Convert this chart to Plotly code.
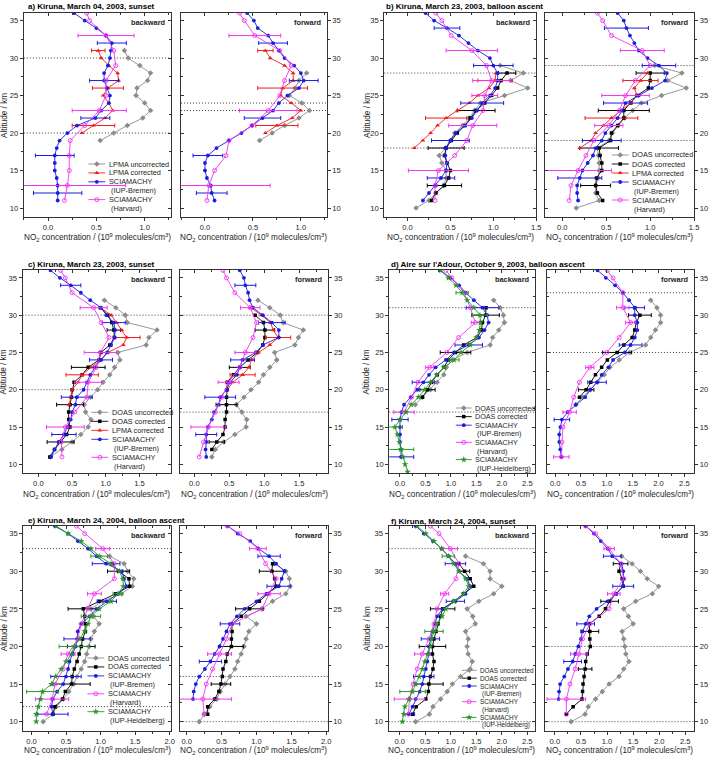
import plotly.graph_objects as go

W, H = 722, 762
FONT = "Arial, 'Liberation Sans', Helvetica, sans-serif"
INK = "#1e1e1e"
AXC = "#333333"

# ---------------- data: (altitude km, NO2 / 1e9 molecules cm-3) ----------------
# a) Kiruna, March 04, 2003, sunset -- backward
A_B_LPMA_UNC = [(19, .54), (20, .68), (21, .82), (22, .98), (23, 1.06), (24, 1.0), (25, .91), (26, .92),
                (27, 1.03), (28, 1.06), (29, .95), (30, .83), (31, .79)]
A_B_LPMA_COR = [(20, .35), (21, .47), (22, .59), (23, .67), (24, .63), (25, .57), (26, .62), (27, .73),
                (28, .72), (29, .63), (30, .55), (31, .52)]
A_B_LPMA_COR_ERR = [(21, .22), (26, .16), (31, .07)]
A_B_IUP = [(11, .10), (12, .10), (13, .10), (14, .09), (15, .07), (16, .07), (17, .07), (18, .09), (19, .12),
           (20, .20), (21, .30), (22, .49), (23, .55), (24, .63), (25, .64), (26, .61), (27, .58), (28, .58),
           (29, .62), (30, .64), (31, .65), (32, .66), (33, .60), (34, .50), (35, .38), (36, .27)]
A_B_IUP_ERR = [(12, .25), (17, .2), (22, .15), (27, .15), (32, .15)]
A_B_HARV = [(11, .17), (13, .20), (15, .22), (17, .22), (19, .23), (21, .38), (23, .53), (25, .60), (27, .60),
            (29, .70), (31, .68), (33, .60), (35, .43), (36, .40)]
A_B_HARV_ERR = [(13, .6), (23, .28), (33, .29)]
A_B_LEVELS = [30, 20]
# a) forward
A_F_LPMA_UNC = [(19, .57), (20, .70), (21, .83), (22, .98), (23, 1.09), (24, 1.01), (25, .88), (26, .94),
                (27, .98), (28, 1.06)]
A_F_LPMA_COR = [(20, .63), (21, .75), (22, .91), (23, 1.0), (24, .90), (25, .79), (26, .81), (27, .92),
                (28, .92), (29, .83), (30, .68), (31, .63)]
A_F_LPMA_COR_ERR = [(21, .22), (26, .26), (31, .08)]
A_F_IUP = [(11, .10), (12, .07), (13, .06), (14, .02), (15, .0), (16, .0), (17, .03), (18, .12), (19, .25),
           (20, .38), (21, .49), (22, .60), (23, .71), (24, .77), (25, .86), (26, .98), (27, 1.03), (28, 1.0),
           (29, .93), (30, .83), (31, .77), (32, .71), (33, .66), (34, .55), (35, .51), (36, .44)]
A_F_IUP_ERR = [(12, .16), (17, .155), (22, .19), (27, .15), (32, .15)]
A_F_HARV = [(11, .02), (13, .04), (15, .10), (17, .22), (19, .25), (21, .49), (23, .66), (25, .78), (27, .83),
            (29, .90), (31, .78), (33, .52), (35, .41), (36, .36)]
A_F_HARV_ERR = [(13, .64), (23, .3), (33, .27)]
A_F_LEVELS = [24, 23]

# b) Kiruna, March 23, 2003, balloon ascent -- backward
B_B_DOAS_UNC = [(10, .10), (11, .25), (12, .33), (13, .42), (14, .45), (15, .45), (16, .40), (17, .37), (18, .44),
                (19, .50), (20, .55), (21, .64), (22, .72), (23, .78), (24, .85), (25, 1.13), (26, 1.40), (27, 1.20),
                (28, 1.35), (29, 1.08)]
B_B_DOAS_COR = [(11, .28), (12, .33), (13, .43), (14, .48), (15, .50), (16, .46), (17, .43), (18, .45), (19, .51),
                (20, .58), (21, .67), (22, .73), (23, .80), (24, .90), (25, .98), (26, 1.05), (27, 1.09), (28, 1.16)]
B_B_DOAS_COR_ERR = [(13, .2), (18, .21), (23, .22), (28, .1)]
B_B_LPMA_COR = [(18, .08), (19, .18), (20, .27), (21, .35), (22, .45), (23, .58), (24, .72), (25, .82), (26, .95),
                (27, 1.02), (28, 1.03)]
B_B_LPMA_COR_ERR = [(22, .24), (27, .2)]
B_B_IUP = [(11, .18), (12, .25), (13, .33), (14, .39), (15, .45), (16, .46), (17, .44), (18, .45), (19, .50),
           (20, .56), (21, .67), (22, .75), (23, .81), (24, .87), (25, .96), (26, 1.02), (27, 1.05), (28, 1.05),
           (29, 1.0), (30, .96), (31, .82), (32, .71), (33, .60), (34, .46), (35, .31), (36, .21)]
B_B_IUP_ERR = [(14, .16), (19, .22), (24, .25), (29, .23), (34, .15)]
B_B_HARV = [(11, .32), (13, .32), (15, .36), (17, .55), (19, .69), (21, .76), (23, .88), (25, .90), (27, .98),
            (29, .92), (31, .75), (33, .51), (35, .40), (36, .33)]
B_B_HARV_ERR = [(15, .35), (21, .28), (25, .15), (27, .22), (31, .3)]
B_B_LEVELS = [28, 18]
# b) forward
B_F_DOAS_UNC = [(10, .16), (11, .42), (12, .38), (13, .38), (14, .41), (15, .42), (16, .42), (17, .41), (18, .40),
                (19, .53), (20, .57), (21, .64), (22, .71), (23, .80), (24, .90), (25, 1.13), (26, 1.41), (27, 1.2),
                (28, 1.36), (29, 1.05)]
B_F_DOAS_COR = [(11, .46), (12, .40), (13, .38), (14, .39), (15, .45), (16, .45), (17, .43), (18, .42), (19, .55),
                (20, .56), (21, .63), (22, .70), (23, .70), (24, .78), (25, .85), (26, .98), (27, 1.0), (28, 1.0)]
B_F_DOAS_COR_ERR = [(13, .17), (18, .22), (23, .29), (28, .16)]
B_F_LPMA_COR = [(18, .2), (19, .33), (20, .38), (21, .47), (22, .56), (23, .67), (24, .78), (25, .85), (26, .82),
                (27, .89), (28, .97)]
B_F_LPMA_COR_ERR = [(22, .3), (27, .2)]
B_F_IUP = [(11, .18), (12, .17), (13, .17), (14, .20), (15, .23), (16, .29), (17, .35), (18, .38), (19, .45),
           (20, .49), (21, .56), (22, .63), (23, .68), (24, .72), (25, .87), (26, 1.02), (27, 1.17), (28, 1.19),
           (29, 1.10), (30, .97), (31, .87), (32, .82), (33, .77), (34, .73), (35, .70), (36, .63)]
B_F_IUP_ERR = [(14, .25), (19, .22), (24, .25), (29, .19), (34, .25)]
B_F_HARV = [(11, .08), (13, .10), (15, .18), (17, .27), (19, .36), (21, .53), (23, .65), (25, .72), (27, .83),
            (29, 1.0), (31, .91), (33, .56), (35, .46), (36, .40)]
B_F_HARV_ERR = [(15, .38), (21, .16), (25, .27), (31, .25)]
B_F_LEVELS = [29, 19]

# c) Kiruna, March 23, 2003, sunset -- backward
C_B_DOAS_UNC = [(11, .18), (12, .35), (13, .50), (14, .63), (15, .74), (16, .78), (17, .70), (18, .68), (19, .77),
                (20, .88), (21, .96), (22, 1.06), (23, 1.13), (24, 1.21), (25, 1.18), (26, 1.60), (27, 1.64),
                (28, 1.76), (29, 1.32), (30, 1.29), (31, 1.15), (32, .98)]
C_B_DOAS_COR = [(11, .17), (12, .24), (13, .33), (14, .42), (15, .47), (16, .45), (17, .45), (18, .47), (19, .49),
                (20, .50), (21, .53), (22, .65), (23, .74), (24, .90), (25, .93), (26, 1.06), (27, 1.13), (28, 1.12),
                (29, 1.09), (30, 1.03), (31, .92)]
C_B_DOAS_COR_ERR = [(13, .2), (18, .2), (23, .25), (28, .1)]
C_B_LPMA_COR = [(18, .46), (19, .48), (20, .50), (21, .59), (22, .65), (23, .78), (24, .93), (25, 1.03), (26, 1.26),
                (27, 1.31), (28, 1.24), (29, 1.16), (30, 1.08), (31, .92)]
C_B_LPMA_COR_ERR = [(22, .24), (27, .2)]
C_B_IUP = [(11, .19), (12, .24), (13, .30), (14, .38), (15, .43), (16, .48), (17, .50), (18, .55), (19, .57),
           (20, .67), (21, .72), (22, .77), (23, .84), (24, .93), (25, 1.02), (26, 1.08), (27, 1.13), (28, 1.14),
           (29, 1.12), (30, 1.01), (31, .93), (32, .77), (33, .63), (34, .48), (35, .32), (36, .18)]
C_B_IUP_ERR = [(14, .18), (19, .23), (24, .17), (29, .17), (34, .15)]
C_B_HARV = [(11, .35), (13, .34), (15, .40), (17, .54), (19, .72), (21, .74), (23, .86), (25, .92), (27, 1.05),
            (29, .93), (31, .82), (33, .50), (35, .40), (36, .33)]
C_B_HARV_ERR = [(15, .28), (21, .2), (25, .24), (31, .2)]
C_B_LEVELS = [30, 20]
# c) forward
C_F_DOAS_UNC = [(11, .25), (12, .30), (13, .42), (14, .58), (15, .74), (16, .75), (17, .68), (18, .60), (19, .71),
                (20, .81), (21, .92), (22, .99), (23, 1.08), (24, 1.18), (25, 1.15), (26, 1.44), (27, 1.49),
                (28, 1.56), (29, 1.27), (30, 1.23), (31, 1.08), (32, .91)]
C_F_DOAS_COR = [(12, .25), (13, .32), (14, .41), (15, .44), (16, .44), (17, .46), (18, .46), (19, .46), (20, .47),
                (21, .47), (22, .56), (23, .65), (24, .77), (25, .90), (26, .98), (27, 1.01), (28, 1.01), (29, .99),
                (30, .87)]
C_F_DOAS_COR_ERR = [(13, .11), (18, .15), (23, .15), (28, .14)]
C_F_LPMA_COR = [(20, .47), (21, .55), (22, .69), (23, .78), (24, .82), (25, .92), (26, 1.08), (27, 1.20), (28, 1.13),
                (29, 1.09), (30, .96), (31, .81)]
C_F_LPMA_COR_ERR = [(22, .18), (27, .18)]
C_F_IUP = [(11, .17), (12, .16), (13, .17), (14, .17), (15, .19), (16, .25), (17, .28), (18, .35), (19, .37),
           (20, .46), (21, .51), (22, .61), (23, .65), (24, .69), (25, .88), (26, .98), (27, 1.21), (28, 1.21),
           (29, 1.11), (30, .98), (31, .84), (32, .79), (33, .77), (34, .73), (35, .71), (36, .65)]
C_F_IUP_ERR = [(14, .15), (19, .22), (24, .17), (29, .19), (34, .15)]
C_F_HARV = [(11, .07), (13, .13), (15, .20), (17, .30), (19, .39), (21, .49), (23, .65), (25, .73), (27, .84),
            (29, .89), (31, .80), (33, .58), (35, .46), (36, .41)]
C_F_HARV_ERR = [(15, .25), (21, .15), (25, .15), (31, .14)]
C_F_LEVELS = [30, 17]

# d) Aire sur l'Adour, October 9, 2003, balloon ascent -- backward
D_B_DOAS_UNC = [(18, .30), (19, .44), (20, .60), (21, .73), (22, .86), (23, .91), (24, 1.03), (25, 1.32), (26, 1.77),
                (27, 1.82), (28, 1.94), (29, 2.05), (30, 2.03), (31, 1.97), (32, 1.84)]
D_B_DOAS_COR = [(19, .44), (20, .54), (21, .62), (22, .73), (23, .86), (24, .95), (25, 1.09), (26, 1.25), (27, 1.51),
                (28, 1.60), (29, 1.62), (30, 1.68), (31, 1.69)]
D_B_DOAS_COR_ERR = [(20, .15), (25, .3), (30, .27)]
D_B_IUP = [(11, .02), (12, .02), (13, .0), (14, .0), (15, .0), (16, .0), (17, .03), (18, .08), (19, .21),
           (20, .34), (21, .46), (22, .57), (23, .70), (24, .90), (25, 1.06), (26, 1.35), (27, 1.55), (28, 1.66),
           (29, 1.74), (30, 1.71), (31, 1.62), (32, 1.45), (33, 1.29), (34, 1.16), (35, .99), (36, .79)]
D_B_IUP_ERR = [(11, .25), (16, .16), (21, .22), (26, .27), (31, .32)]
D_B_HARV = [(17, .08), (19, .23), (21, .35), (23, .58), (25, .92), (27, 1.15), (29, 1.48), (31, 1.38), (33, 1.26),
            (35, 1.02), (36, .90)]
D_B_HARV_ERR = [(17, .2), (23, .08), (29, .08)]
D_B_HEID = [(9, .15), (10, .10), (11, .06), (12, .02), (13, -.01), (14, -.05), (15, -.10), (16, .0), (17, .12),
            (18, .22), (19, .36), (20, .48), (21, .60), (22, .72), (23, .86), (24, 1.06), (25, 1.20), (26, 1.38),
            (27, 1.50), (28, 1.56), (29, 1.58), (30, 1.57), (31, 1.45), (32, 1.32), (33, 1.22), (34, 1.10),
            (35, .95), (36, .80)]
D_B_HEID_ERR = [(12, .25), (15, .15), (24, .1), (30, .15), (33, .12)]
D_B_LEVELS = [31, 17]
# d) forward
D_F_DOAS_UNC = [(18, .40), (19, .53), (20, .68), (21, .82), (22, .95), (23, 1.06), (24, 1.24), (25, 1.44), (26, 1.75),
                (27, 1.85), (28, 1.94), (29, 2.04), (30, 2.04), (31, 1.97), (32, 1.85)]
D_F_DOAS_COR = [(19, .47), (20, .60), (21, .69), (22, .78), (23, .90), (24, 1.01), (25, 1.20), (26, 1.33), (27, 1.49),
                (28, 1.54), (29, 1.57), (30, 1.64), (31, 1.54)]
D_F_DOAS_COR_ERR = [(20, .15), (25, .28), (30, .22)]
D_F_IUP = [(11, .12), (12, .10), (13, .08), (14, .08), (15, .10), (16, .13), (17, .24), (18, .40), (19, .58),
           (20, .68), (21, .81), (22, .90), (23, 1.03), (24, 1.12), (25, 1.35), (26, 1.46), (27, 1.54), (28, 1.59),
           (29, 1.59), (30, 1.54), (31, 1.54), (32, 1.43), (33, 1.31), (34, 1.16), (35, .98), (36, .82)]
D_F_IUP_ERR = [(16, .15), (21, .18), (26, .22), (31, .19)]
D_F_HARV = [(11, .12), (13, .13), (15, .15), (17, .28), (19, .36), (21, .47), (23, .67), (25, 1.0), (27, 1.24),
            (29, 1.46), (31, 1.31), (33, 1.31), (35, 1.12), (36, 1.01)]
D_F_HARV_ERR = [(11, .15), (17, .13), (23, .08), (29, .1), (31, .12)]
D_F_LEVELS = [33, 25]

# e) Kiruna, March 24, 2004, balloon ascent -- backward
E_B_DOAS_UNC = [(10, .17), (11, .31), (12, .36), (13, .46), (14, .54), (15, .61), (16, .66), (17, .72), (18, .77),
                (19, .80), (20, .83), (21, .86), (22, .91), (23, .98), (24, .90), (25, .86), (26, 1.03), (27, 1.30),
                (28, 1.46), (29, 1.48), (30, 1.39), (31, 1.34), (32, 1.13)]
E_B_DOAS_COR = [(11, .31), (12, .34), (13, .45), (14, .49), (15, .58), (16, .59), (17, .62), (18, .66), (19, .69),
                (20, .72), (21, .74), (22, .78), (23, .78), (24, .77), (25, .75), (26, .98), (27, 1.22), (28, 1.42),
                (29, 1.41), (30, 1.26), (31, 1.17)]
E_B_DOAS_COR_ERR = [(15, .27), (20, .2), (25, .22), (30, .16)]
E_B_IUP = [(11, .31), (12, .29), (13, .31), (14, .37), (15, .46), (16, .50), (17, .53), (18, .55), (19, .60),
           (20, .64), (21, .66), (22, .67), (23, .72), (24, .84), (25, .94), (26, 1.09), (27, 1.25), (28, 1.37),
           (29, 1.34), (30, 1.31), (31, 1.08), (32, .94), (33, .82), (34, .67), (35, .53), (36, .34)]
E_B_IUP_ERR = [(11, .22), (16, .22), (21, .19), (26, .14), (31, .2)]
E_B_HARV = [(11, .22), (13, .30), (15, .34), (17, .46), (19, .53), (21, .67), (23, .72), (25, .82), (27, .91),
            (29, 1.20), (31, 1.20), (33, 1.03), (35, .77), (36, .65)]
E_B_HARV_ERR = [(13, .24), (19, .1), (27, .1), (33, .1)]
E_B_HEID = [(10, .07), (11, .07), (12, .10), (13, .13), (14, .16), (15, .29), (16, .35), (17, .43), (18, .50),
            (19, .58), (20, .62), (21, .70), (22, .77), (23, .82), (24, .86), (25, .98), (26, 1.15), (27, 1.25),
            (28, 1.33), (29, 1.32), (30, 1.27), (31, 1.15), (32, .98), (33, .86), (34, .72), (35, .53), (36, .36)]
E_B_HEID_ERR = [(14, .23), (20, .22), (24, .14), (27, .07), (32, .12)]
E_B_LEVELS = [33, 12]
# e) forward
E_F_DOAS_UNC = [(10, .18), (11, .25), (12, .33), (13, .43), (14, .48), (15, .55), (16, .62), (17, .69), (18, .73),
                (19, .78), (20, .82), (21, .85), (22, .89), (23, 1.0), (24, .85), (25, 1.08), (26, 1.23), (27, 1.42),
                (28, 1.48), (29, 1.47), (30, 1.42), (31, 1.26)]
E_F_DOAS_COR = [(11, .30), (12, .30), (13, .40), (14, .46), (15, .49), (16, .51), (17, .52), (18, .56), (19, .58),
                (20, .64), (21, .64), (22, .65), (23, .65), (24, .78), (25, .90), (26, 1.04), (27, 1.16), (28, 1.28),
                (29, 1.26), (30, 1.22), (31, 1.23)]
E_F_DOAS_COR_ERR = [(15, .14), (20, .17), (25, .2), (30, .18)]
E_F_IUP = [(13, .09), (14, .10), (15, .13), (16, .18), (17, .26), (18, .34), (19, .40), (20, .47), (21, .52),
           (22, .57), (23, .62), (24, .72), (25, .83), (26, 1.0), (27, 1.14), (28, 1.32), (29, 1.36), (30, 1.40),
           (31, 1.28), (32, 1.18), (33, 1.03), (34, .91), (35, .73), (36, .59)]
E_F_IUP_ERR = [(18, .16), (23, .14), (28, .17), (32, .16)]
E_F_HARV = [(11, .25), (13, .23), (15, .28), (17, .37), (19, .47), (21, .57), (23, .65), (25, 1.08), (27, 1.18),
            (29, 1.28), (31, 1.13), (33, 1.02), (35, .76), (36, .58)]
E_F_HARV_ERR = [(13, .41), (19, .17), (27, .16), (33, .12)]
E_F_LEVELS = [16, 10]

# f) Kiruna, March 24, 2004, sunset -- backward
F_B_DOAS_UNC = [(10, .31), (11, .58), (12, .65), (13, .80), (14, .93), (15, 1.03), (16, 1.19), (17, 1.38), (18, 1.42),
                (19, 1.34), (20, 1.32), (21, 1.34), (22, 1.29), (23, 1.48), (24, 1.43), (25, 1.32), (26, 1.55),
                (27, 1.84), (28, 2.0), (29, 1.77), (30, 1.77), (31, 1.64), (32, 1.29)]
F_B_DOAS_COR = [(11, .25), (12, .32), (13, .51), (14, .56), (15, .57), (16, .60), (17, .65), (18, .67), (19, .64),
                (20, .64), (21, .67), (22, .71), (23, .75), (24, .80), (25, .84), (26, 1.06), (27, 1.25), (28, 1.45),
                (29, 1.38), (30, 1.27), (31, 1.16)]
F_B_DOAS_COR_ERR = [(15, .28), (20, .26), (25, .24), (30, .1)]
F_B_IUP = [(11, .18), (12, .25), (13, .31), (14, .39), (15, .44), (16, .47), (17, .51), (18, .54), (19, .57),
           (20, .57), (21, .60), (22, .64), (23, .69), (24, .73), (25, .84), (26, 1.09), (27, 1.29), (28, 1.38),
           (29, 1.32), (30, 1.16), (31, 1.09), (32, .96), (33, .82), (34, .65), (35, .47), (36, .31)]
F_B_IUP_ERR = [(11, .11), (16, .2), (21, .18), (26, .18), (31, .2)]
F_B_HARV = [(11, .17), (13, .19), (15, .26), (17, .34), (19, .44), (21, .57), (23, .67), (25, .73), (27, .88),
            (29, 1.10), (31, 1.16), (33, .99), (35, .77), (36, .60)]
F_B_HARV_ERR = [(13, .3), (19, .15), (27, .08), (33, .14)]
F_B_HEID = [(10, .05), (11, .08), (12, .10), (13, .18), (14, .25), (15, .31), (16, .38), (17, .44), (18, .49),
            (19, .54), (20, .60), (21, .62), (22, .67), (23, .73), (24, .83), (25, .90), (26, 1.06), (27, 1.25),
            (28, 1.35), (29, 1.29), (30, 1.16), (31, 1.06), (32, .95), (33, .82), (34, .67), (35, .51), (36, .34)]
F_B_HEID_ERR = [(14, .25), (22, .18), (32, .12)]
F_B_LEVELS = [33, 10]
# f) forward
F_F_DOAS_UNC = [(10, .31), (11, .58), (12, .64), (13, .78), (14, .91), (15, 1.04), (16, 1.23), (17, 1.32), (18, 1.42),
                (19, 1.36), (20, 1.34), (21, 1.32), (22, 1.29), (23, 1.50), (24, 1.41), (25, 1.32), (26, 1.55),
                (27, 1.87), (28, 1.99), (29, 1.77), (30, 1.64), (31, 1.48), (32, 1.28)]
F_F_DOAS_COR = [(11, .22), (12, .35), (13, .52), (14, .53), (15, .54), (16, .56), (17, .58), (18, .59), (19, .62),
                (20, .68), (21, .67), (22, .67), (23, .66), (24, .85), (25, .97), (26, 1.05), (27, 1.17), (28, 1.31),
                (29, 1.29), (30, 1.23), (31, 1.26)]
F_F_DOAS_COR_ERR = [(17, .13), (22, .17), (26, .17), (31, .14)]
F_F_IUP = [(13, .07), (14, .08), (15, .10), (16, .18), (17, .25), (18, .34), (19, .39), (20, .45), (21, .50),
           (22, .53), (23, .59), (24, .66), (25, .80), (26, 1.01), (27, 1.18), (28, 1.31), (29, 1.32), (30, 1.31),
           (31, 1.28), (32, 1.10), (33, 1.01), (34, .88), (35, .75), (36, .59)]
F_F_IUP_ERR = [(18, .17), (23, .17), (28, .2), (32, .17)]
F_F_HARV = [(11, .22), (13, .22), (15, .29), (17, .39), (19, .46), (21, .53), (23, .67), (25, 1.04), (27, 1.13),
            (29, 1.32), (31, 1.26), (33, 1.04), (35, .78), (36, .59)]
F_F_HARV_ERR = [(13, .37), (19, .16), (27, .12), (33, .1)]
F_F_LEVELS = [20, 10]

TITLES = ["a) Kiruna, March 04, 2003, sunset",
          "b) Kiruna, March 23, 2003, balloon ascent",
          "c) Kiruna, March 23, 2003, sunset",
          "d) Aire sur l'Adour, October 9, 2003, balloon ascent",
          "e) Kiruna, March 24, 2004, balloon ascent",
          "f) Kiruna, March 24, 2004, sunset"]

# ---------------- styles ----------------
STYLE = {
    "LPMA_UNC": dict(color="#8c8c8c", symbol="diamond", size=4.3, label=["LPMA uncorrected"]),
    "DOAS_UNC": dict(color="#8c8c8c", symbol="diamond", size=4.3, label=["DOAS uncorrected"]),
    "DOAS_COR": dict(color="#000000", symbol="square", size=3.5, label=["DOAS corrected"]),
    "LPMA_COR": dict(color="#ee1c1c", symbol="triangle-up", size=4.3, label=["LPMA corrected"]),
    "IUP": dict(color="#1c1ce0", symbol="circle", size=3.8, label=["SCIAMACHY", "(IUP-Bremen)"]),
    "HARV": dict(color="#f035f0", symbol="circle-open", size=4, label=["SCIAMACHY", "(Harvard)"]),
    "HEID": dict(color="#2a962a", symbol="star", size=5, label=["SCIAMACHY", "(IUP-Heidelberg)"]),
}

# ---------------- panel layout (pixel boxes: x0, x1, y0, y1) ----------------
PANELS = [
    dict(box=(24, 172, 12.7, 217), xr=(-0.25, 1.27), side="left", tag="backward", levels=A_B_LEVELS,
         series=[("LPMA_UNC", A_B_LPMA_UNC, None), ("LPMA_COR", A_B_LPMA_COR, A_B_LPMA_COR_ERR),
                 ("IUP", A_B_IUP, A_B_IUP_ERR), ("HARV", A_B_HARV, A_B_HARV_ERR)]),
    dict(box=(182.3, 329, 12.7, 217), xr=(-0.25, 1.27), side="right", tag="forward", levels=A_F_LEVELS,
         series=[("LPMA_UNC", A_F_LPMA_UNC, None), ("LPMA_COR", A_F_LPMA_COR, A_F_LPMA_COR_ERR),
                 ("IUP", A_F_IUP, A_F_IUP_ERR), ("HARV", A_F_HARV, A_F_HARV_ERR)]),
    dict(box=(387, 540, 12.7, 217), xr=(-0.27, 1.5), side="left", tag="backward", levels=B_B_LEVELS,
         series=[("DOAS_UNC", B_B_DOAS_UNC, None), ("DOAS_COR", B_B_DOAS_COR, B_B_DOAS_COR_ERR),
                 ("LPMA_COR", B_B_LPMA_COR, B_B_LPMA_COR_ERR), ("IUP", B_B_IUP, B_B_IUP_ERR),
                 ("HARV", B_B_HARV, B_B_HARV_ERR)]),
    dict(box=(549.3, 699, 12.7, 217), xr=(-0.19, 1.5), side="right", tag="forward", levels=B_F_LEVELS,
         series=[("DOAS_UNC", B_F_DOAS_UNC, None), ("DOAS_COR", B_F_DOAS_COR, B_F_DOAS_COR_ERR),
                 ("LPMA_COR", B_F_LPMA_COR, B_F_LPMA_COR_ERR), ("IUP", B_F_IUP, B_F_IUP_ERR),
                 ("HARV", B_F_HARV, B_F_HARV_ERR)]),
    dict(box=(22.7, 172.3, 270, 473.3), xr=(-0.235, 1.97), side="left", tag="backward", levels=C_B_LEVELS,
         series=[("DOAS_UNC", C_B_DOAS_UNC, None), ("DOAS_COR", C_B_DOAS_COR, C_B_DOAS_COR_ERR),
                 ("LPMA_COR", C_B_LPMA_COR, C_B_LPMA_COR_ERR), ("IUP", C_B_IUP, C_B_IUP_ERR),
                 ("HARV", C_B_HARV, C_B_HARV_ERR)]),
    dict(box=(181.7, 330.7, 270, 473.3), xr=(-0.2, 1.92), side="right", tag="forward", levels=C_F_LEVELS,
         series=[("DOAS_UNC", C_F_DOAS_UNC, None), ("DOAS_COR", C_F_DOAS_COR, C_F_DOAS_COR_ERR),
                 ("LPMA_COR", C_F_LPMA_COR, C_F_LPMA_COR_ERR), ("IUP", C_F_IUP, C_F_IUP_ERR),
                 ("HARV", C_F_HARV, C_F_HARV_ERR)]),
    dict(box=(392, 538.7, 270, 473.3), xr=(-0.21, 2.65), side="left", tag="backward", levels=D_B_LEVELS,
         series=[("DOAS_UNC", D_B_DOAS_UNC, None), ("DOAS_COR", D_B_DOAS_COR, D_B_DOAS_COR_ERR),
                 ("IUP", D_B_IUP, D_B_IUP_ERR), ("HARV", D_B_HARV, D_B_HARV_ERR), ("HEID", D_B_HEID, D_B_HEID_ERR)]),
    dict(box=(550.7, 699, 270, 473.3), xr=(-0.16, 2.69), side="right", tag="forward", levels=D_F_LEVELS,
         series=[("DOAS_UNC", D_F_DOAS_UNC, None), ("DOAS_COR", D_F_DOAS_COR, D_F_DOAS_COR_ERR),
                 ("IUP", D_F_IUP, D_F_IUP_ERR), ("HARV", D_F_HARV, D_F_HARV_ERR)]),
    dict(box=(23.3, 172.3, 525.7, 730.7), xr=(-0.12, 2.02), side="left", tag="backward", levels=E_B_LEVELS,
         series=[("DOAS_UNC", E_B_DOAS_UNC, None), ("DOAS_COR", E_B_DOAS_COR, E_B_DOAS_COR_ERR),
                 ("IUP", E_B_IUP, E_B_IUP_ERR), ("HARV", E_B_HARV, E_B_HARV_ERR), ("HEID", E_B_HEID, E_B_HEID_ERR)]),
    dict(box=(181, 330, 525.7, 730.7), xr=(-0.1, 2.02), side="right", tag="forward", levels=E_F_LEVELS,
         series=[("DOAS_UNC", E_F_DOAS_UNC, None), ("DOAS_COR", E_F_DOAS_COR, E_F_DOAS_COR_ERR),
                 ("IUP", E_F_IUP, E_F_IUP_ERR), ("HARV", E_F_HARV, E_F_HARV_ERR)]),
    dict(box=(391.3, 538.7, 525.7, 730.7), xr=(-0.22, 2.65), side="left", tag="backward", levels=F_B_LEVELS,
         series=[("DOAS_UNC", F_B_DOAS_UNC, None), ("DOAS_COR", F_B_DOAS_COR, F_B_DOAS_COR_ERR),
                 ("IUP", F_B_IUP, F_B_IUP_ERR), ("HARV", F_B_HARV, F_B_HARV_ERR), ("HEID", F_B_HEID, F_B_HEID_ERR)]),
    dict(box=(549.3, 699, 525.7, 730.7), xr=(-0.18, 2.67), side="right", tag="forward", levels=F_F_LEVELS,
         series=[("DOAS_UNC", F_F_DOAS_UNC, None), ("DOAS_COR", F_F_DOAS_COR, F_F_DOAS_COR_ERR),
                 ("IUP", F_F_IUP, F_F_IUP_ERR), ("HARV", F_F_HARV, F_F_HARV_ERR)]),
]
YR = (8.8, 36.05)

TITLE_POS = [(26, 6.5), (387, 6.5), (26, 264.5), (392, 264.5), (26.5, 520.5), (392, 521)]
XTITLE_Y = [237.5, 494.5, 750.3]
ROW_MID = [115, 371.6, 628.2]

LEGENDS = [
    dict(x=89, y=164, dy=8.9, L=17, fs=7.3, keys=["LPMA_UNC", "LPMA_COR", "IUP", "HARV"]),
    dict(x=616, y=155, dy=9.0, L=17, fs=7.3, keys=["DOAS_UNC", "DOAS_COR", "LPMA_COR", "IUP", "HARV"]),
    dict(x=92, y=412.3, dy=9.0, L=17, fs=7.3, keys=["DOAS_UNC", "DOAS_COR", "LPMA_COR", "IUP", "HARV"]),
    dict(x=459, y=408, dy=8.6, L=16, fs=7.2, keys=["DOAS_UNC", "DOAS_COR", "IUP", "HARV", "HEID"]),
    dict(x=88, y=658, dy=8.95, L=17, fs=7.3, keys=["DOAS_UNC", "DOAS_COR", "IUP", "HARV", "HEID"]),
    dict(x=465, y=670.3, dy=7.85, L=15, fs=6.4, keys=["DOAS_UNC", "DOAS_COR", "IUP", "HARV", "HEID"]),
]


def ref(axis, n):
    return axis if n == 1 else f"{axis}{n}"


def lkey(axis, n):
    return f"{axis}axis" if n == 1 else f"{axis}axis{n}"


def px(x):
    return x / W


def py(y):
    return 1 - y / H


fig = go.Figure()
layout = {}
annotations = []
shapes = []
N = len(PANELS)
LEG = 2 * N + 1

for i, P in enumerate(PANELS, start=1):
    x0, x1, y0, y1 = P["box"]
    xr, yr = ref("x", i), ref("y", i)
    tickfont = dict(family=FONT, size=7.6, color=INK)
    layout[lkey("x", i)] = dict(
        domain=[px(x0), px(x1)], range=list(P["xr"]), anchor=yr, side="bottom",
        showline=True, linecolor=AXC, linewidth=1, mirror=True,
        ticks="outside", ticklen=3, tickwidth=1, tickcolor=AXC, dtick=0.5, tick0=0,
        tickformat=".1f", tickfont=tickfont,
        minor=dict(ticks="outside", ticklen=2, dtick=0.25, tick0=0, tickcolor=AXC, showgrid=False),
        showgrid=False, zeroline=False, fixedrange=True)
    layout[lkey("y", i)] = dict(
        domain=[py(y1), py(y0)], range=list(YR), anchor=xr, side=P["side"],
        showline=True, linecolor=AXC, linewidth=1, mirror=True,
        ticks="outside", ticklen=3, tickwidth=1, tickcolor=AXC, dtick=5, tick0=0,
        tickfont=tickfont,
        minor=dict(ticks="outside", ticklen=2, dtick=2.5, tick0=0, tickcolor=AXC, showgrid=False),
        showgrid=False, zeroline=False, fixedrange=True)
    # inside ticks on the opposite (unlabelled) sides
    m = i + N
    layout[lkey("x", m)] = dict(
        overlaying=xr, side="top", anchor=yr, range=list(P["xr"]), showline=False,
        ticks="inside", ticklen=3, tickcolor=AXC, dtick=0.5, tick0=0, showticklabels=False,
        minor=dict(ticks="inside", ticklen=2, dtick=0.25, tick0=0, tickcolor=AXC, showgrid=False),
        showgrid=False, zeroline=False, fixedrange=True)
    layout[lkey("y", m)] = dict(
        overlaying=yr, side="right" if P["side"] == "left" else "left", anchor=xr, range=list(YR),
        showline=False, ticks="inside", ticklen=3, tickcolor=AXC, dtick=5, tick0=0, showticklabels=False,
        minor=dict(ticks="inside", ticklen=2, dtick=2.5, tick0=0, tickcolor=AXC, showgrid=False),
        showgrid=False, zeroline=False, fixedrange=True)
    fig.add_trace(go.Scatter(x=[None], y=[None], xaxis=ref("x", m), yaxis=ref("y", m),
                             showlegend=False, hoverinfo="skip"))

    # dotted reference altitudes
    for lev in P["levels"]:
        shapes.append(dict(type="line", xref=f"{xr} domain", yref=yr, x0=0, x1=1, y0=lev, y1=lev,
                           line=dict(color="#3c3c3c", width=1, dash="1px,2px"), layer="below"))

    # data series
    for key, data, err in P["series"]:
        s = STYLE[key]
        alts = [a for a, _ in data]
        vals = [v for _, v in data]
        if err:
            lookup = dict(data)
            ea = [a for a, _ in err if a in lookup]
            ev = [lookup[a] for a in ea]
            ee = [e for a, e in err if a in lookup]
            fig.add_trace(go.Scatter(
                x=ev, y=ea, xaxis=xr, yaxis=yr, mode="markers",
                marker=dict(size=1, opacity=0, color=s["color"]),
                error_x=dict(type="data", array=ee, symmetric=True, color=s["color"],
                             thickness=1, width=2),
                showlegend=False, hoverinfo="skip"))
        mk = dict(symbol=s["symbol"], size=s["size"], color=s["color"],
                  line=dict(width=0.9 if key == "HARV" else 0, color=s["color"]))
        fig.add_trace(go.Scatter(
            x=vals, y=alts, xaxis=xr, yaxis=yr, mode="lines+markers",
            line=dict(color=s["color"], width=0.9), marker=mk, name=" ".join(s["label"]),
            showlegend=False))

    # backward / forward tag
    annotations.append(dict(x=px(x1 - 3), y=py(y0 + 10), xref="paper", yref="paper",
                            text=f"<b>{P['tag']}</b>", showarrow=False, xanchor="right", yanchor="middle",
                            font=dict(family=FONT, size=7.4, color=INK)))
    # x-axis title
    row = (i - 1) // 4
    annotations.append(dict(x=px((x0 + x1) / 2), y=py(XTITLE_Y[row]), xref="paper", yref="paper",
                            text="NO<sub>2</sub> concentration / (10<sup>9</sup> molecules/cm<sup>3</sup>)",
                            showarrow=False, xanchor="center", yanchor="middle",
                            font=dict(family=FONT, size=8.2, color=INK)))

# y-axis titles
for row in range(3):
    for xc in (4, 369.5):
        annotations.append(dict(x=px(xc), y=py(ROW_MID[row]), xref="paper", yref="paper",
                                text="Altitude / km", textangle=-90, showarrow=False,
                                xanchor="center", yanchor="middle",
                                font=dict(family=FONT, size=8.2, color=INK)))

# panel titles
for t, (tx, ty) in zip(TITLES, TITLE_POS):
    annotations.append(dict(x=px(tx), y=py(ty), xref="paper", yref="paper", text=f"<b>{t}</b>",
                            showarrow=False, xanchor="left", yanchor="middle",
                            font=dict(family=FONT, size=8, color="#000000")))

# manual legends drawn on a full-page overlay axis (pixel coordinates)
lx, ly = ref("x", LEG), ref("y", LEG)
layout[lkey("x", LEG)] = dict(domain=[0, 1], range=[0, W], visible=False, fixedrange=True, anchor=ly)
layout[lkey("y", LEG)] = dict(domain=[0, 1], range=[H, 0], visible=False, fixedrange=True, anchor=lx)
for lg in LEGENDS:
    line_i = 0
    for key in lg["keys"]:
        s = STYLE[key]
        yy = lg["y"] + line_i * lg["dy"]
        xa, xb = lg["x"], lg["x"] + lg["L"]
        fig.add_trace(go.Scatter(x=[xa, xb], y=[yy, yy], xaxis=lx, yaxis=ly, mode="lines",
                                 line=dict(color=s["color"], width=0.9), showlegend=False, hoverinfo="skip"))
        fig.add_trace(go.Scatter(x=[(xa + xb) / 2], y=[yy], xaxis=lx, yaxis=ly, mode="markers",
                                 marker=dict(symbol=s["symbol"], size=s["size"], color=s["color"],
                                             line=dict(width=0.9 if key == "HARV" else 0, color=s["color"])),
                                 showlegend=False, hoverinfo="skip"))
        for k, txt in enumerate(s["label"]):
            annotations.append(dict(x=px(xb + 1.5 + (2 if k else 0)), y=py(yy + k * lg["dy"]),
                                    xref="paper", yref="paper", text=txt, showarrow=False,
                                    xanchor="left", yanchor="middle",
                                    font=dict(family=FONT, size=lg["fs"], color=INK)))
        line_i += len(s["label"])

fig.update_layout(
    width=W, height=H, autosize=False, margin=dict(l=0, r=0, t=0, b=0, pad=0),
    paper_bgcolor="white", plot_bgcolor="rgba(0,0,0,0)", showlegend=False,
    font=dict(family=FONT, size=8, color=INK),
    annotations=annotations, shapes=shapes, **layout)

fig.write_html("out.html", config={"displayModeBar": False})
